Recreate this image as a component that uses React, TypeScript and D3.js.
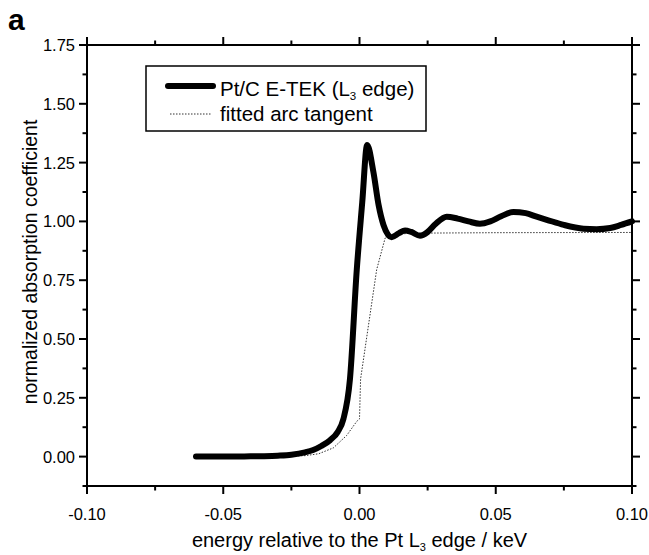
import React from "react";
import * as d3 from "d3";

// ---- data ----
const ptEnergy = [-0.06, -0.05, -0.04, -0.035, -0.03, -0.025, -0.02, -0.017, -0.014, -0.0108, -0.008, -0.0059, -0.0035, -0.001, 0.001, 0.0028, 0.0051, 0.007, 0.0088, 0.0118, 0.0145, 0.0167, 0.019, 0.0222, 0.025, 0.028, 0.032, 0.036, 0.04, 0.0442, 0.048, 0.052, 0.0565, 0.061, 0.065, 0.0687, 0.075, 0.0822, 0.087, 0.092, 0.096, 0.1];
const ptMu = [0.0, 0.0, 0.001, 0.002, 0.004, 0.008, 0.018, 0.028, 0.045, 0.07, 0.105, 0.16, 0.33, 0.795, 1.08, 1.325, 1.21, 1.07, 0.985, 0.933, 0.95, 0.961, 0.955, 0.939, 0.955, 0.99, 1.02, 1.012, 1.0, 0.99, 1.0, 1.022, 1.04, 1.035, 1.02, 1.007, 0.985, 0.969, 0.967, 0.972, 0.985, 1.0];

const fitEnergy = [-0.06, -0.03, -0.02, -0.015, -0.0096, -0.0047, -0.001, 0.0, 0.0004, 0.0063, 0.0094, 0.012, 0.02, 0.05, 0.1];
const fitMu = [0.0, 0.001, 0.004, 0.012, 0.037, 0.09, 0.15, 0.16, 0.33, 0.795, 0.929, 0.945, 0.95, 0.952, 0.953];

const xMajor = [-0.1, -0.05, 0, 0.05, 0.1];
const xMinor = [-0.075, -0.025, 0.025, 0.075];
const xLabels = ["-0.10", "-0.05", "0.00", "0.05", "0.10"];
const yMajor = [0, 0.25, 0.5, 0.75, 1.0, 1.25, 1.5, 1.75];
const yMinor = [-0.125, 0.125, 0.375, 0.625, 0.875, 1.125, 1.375, 1.625];
const yLabels = ["0.00", "0.25", "0.50", "0.75", "1.00", "1.25", "1.50", "1.75"];

const W = 649;
const H = 555;
const L = 87, R = 632, T = 45, B = 486;
const FONT = "'Liberation Sans', Arial, Helvetica, sans-serif";

export default function App() {
  const x = d3.scaleLinear().domain([-0.1, 0.1]).range([L, R]);
  const y = d3.scaleLinear().domain([-0.125, 1.75]).range([B, T]);

  const ptLine = d3
    .line<number>()
    .x((_, i) => x(ptEnergy[i]))
    .y((d) => y(d))
    .curve(d3.curveMonotoneX);
  const fitLine = d3
    .line<number>()
    .x((_, i) => x(fitEnergy[i]))
    .y((d) => y(d))
    .curve(d3.curveLinear);

  const majorLen = 8;
  const minorLen = 4.5;
  const ax = { stroke: "#000", strokeWidth: 2 };

  return (
    <svg width={W} height={H} style={{ position: "absolute", left: 0, top: 0, background: "#fff" }} fontFamily={FONT}>
      <rect x={0} y={0} width={W} height={H} fill="#fff" />
      <text x={8} y={30} fontSize={30} fontWeight="bold">a</text>

      {/* curves */}
      <path d={fitLine(fitMu) || ""} fill="none" stroke="#333" strokeWidth={1} strokeDasharray="1.5,1.5" />
      <path d={ptLine(ptMu) || ""} fill="none" stroke="#000" strokeWidth={6} strokeLinejoin="round" strokeLinecap="round" />

      {/* frame */}
      <rect x={L} y={T} width={R - L} height={B - T} fill="none" {...ax} />

      {/* x ticks */}
      {xMajor.map((v, i) => (
        <g key={"xM" + i}>
          <line x1={x(v)} x2={x(v)} y1={B} y2={B + majorLen} {...ax} />
          <line x1={x(v)} x2={x(v)} y1={T} y2={T - majorLen} {...ax} />
          <text x={x(v)} y={B + 34} fontSize={16.5} textAnchor="middle">{xLabels[i]}</text>
        </g>
      ))}
      {xMinor.map((v, i) => (
        <g key={"xm" + i}>
          <line x1={x(v)} x2={x(v)} y1={B} y2={B + minorLen} {...ax} />
          <line x1={x(v)} x2={x(v)} y1={T} y2={T - minorLen} {...ax} />
        </g>
      ))}

      {/* y ticks */}
      {yMajor.map((v, i) => (
        <g key={"yM" + i}>
          <line x1={L} x2={L - majorLen} y1={y(v)} y2={y(v)} {...ax} />
          <line x1={R} x2={R + majorLen} y1={y(v)} y2={y(v)} {...ax} />
          <text x={L - 12} y={y(v) + 6} fontSize={16.5} textAnchor="end">{yLabels[i]}</text>
        </g>
      ))}
      {yMinor.map((v, i) => (
        <g key={"ym" + i}>
          <line x1={L} x2={L - minorLen} y1={y(v)} y2={y(v)} {...ax} />
          <line x1={R} x2={R + minorLen} y1={y(v)} y2={y(v)} {...ax} />
        </g>
      ))}

      {/* axis titles */}
      <text x={(L + R) / 2} y={547} fontSize={20} textAnchor="middle">
        energy relative to the Pt L<tspan fontSize={11} dy={4}>3</tspan>
        <tspan dy={-4}> edge / keV</tspan>
      </text>
      <text transform={`translate(37, 262) rotate(-90)`} fontSize={19.5} textAnchor="middle">
        normalized absorption coefficient
      </text>

      {/* legend */}
      <rect x={146} y={66} width={280} height={65} fill="#fff" stroke="#000" strokeWidth={1.5} />
      <line x1={168} x2={213} y1={86} y2={86} stroke="#000" strokeWidth={6} strokeLinecap="round" />
      <text x={220} y={96} fontSize={20.5}>
        Pt/C E-TEK (L<tspan fontSize={11.5} dy={4}>3</tspan>
        <tspan dy={-4}> edge)</tspan>
      </text>
      <line x1={170} x2={212} y1={114} y2={114} stroke="#333" strokeWidth={1} strokeDasharray="1.5,1.5" />
      <text x={220} y={121} fontSize={20.5}>fitted arc tangent</text>
    </svg>
  );
}
